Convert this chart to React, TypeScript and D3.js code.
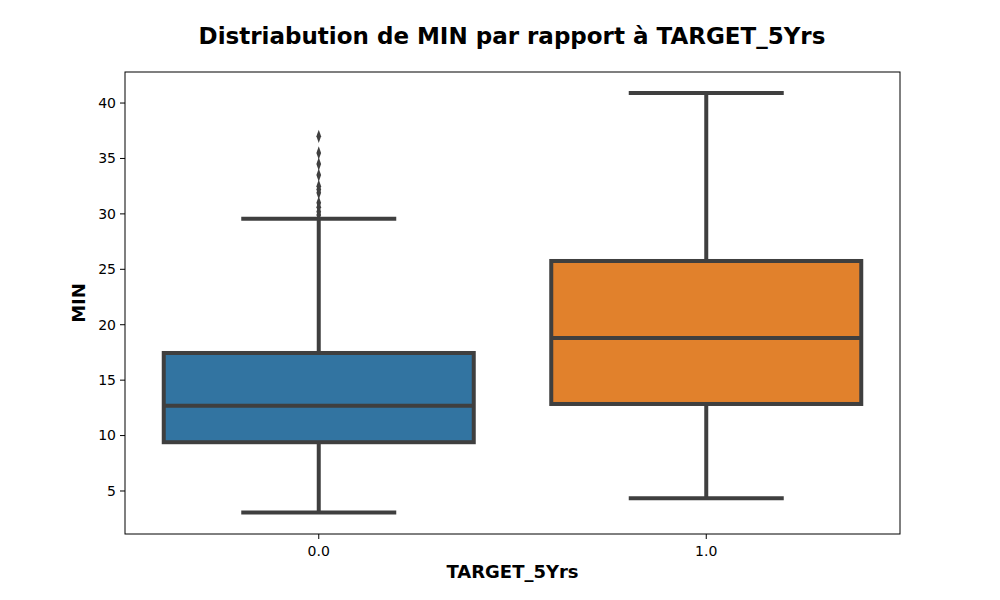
import React from 'react';
import * as d3 from 'd3';

const categories = ['0.0', '1.0'];
const colors = ['#3274a1', '#e1812c'];
// [whiskerLow, q1, median, q3, whiskerHigh]
const stats = [
  [3.05, 9.4, 12.7, 17.45, 29.55],
  [4.35, 12.85, 18.8, 25.75, 40.9],
];
const outliers0 = [37.0, 35.5, 34.5, 33.5, 32.5, 32.2, 31.9, 31.0, 30.6, 30.2, 29.9];
const yTicks = [5, 10, 15, 20, 25, 30, 35, 40];

export default function App() {
  const W = 1000, H = 600;
  const m = { left: 125, right: 100, top: 72, bottom: 66 };
  const iw = W - m.left - m.right;
  const ih = H - m.top - m.bottom;
  const x = d3.scaleBand().domain(categories).range([0, iw]).paddingInner(0.2).paddingOuter(0.1);
  const y = d3.scaleLinear().domain([1.12, 42.8]).range([ih, 0]);
  const bw = x.bandwidth();
  const stroke = '#3f3f3f';
  const font = 'DejaVu Sans, sans-serif';
  const diamond = d3.symbol().type(d3.symbolDiamond).size(30)()!;

  return (
    <svg width={W} height={H} style={{ position: 'absolute', left: 0, top: 0 }} fontFamily={font}>
      <rect width={W} height={H} fill="#fff" />
      <text x={512} y={44} textAnchor="middle" fontSize={23} fontWeight="bold">
        Distriabution de MIN par rapport à TARGET_5Yrs
      </text>
      <g transform={`translate(${m.left},${m.top})`}>
        {yTicks.map((t) => (
          <g key={t} transform={`translate(0,${y(t)})`}>
            <line x1={-5} x2={0} stroke="#000" />
            <text x={-9} dy="0.35em" textAnchor="end" fontSize={14}>{t}</text>
          </g>
        ))}
        {categories.map((c, i) => {
          const [lo, q1, med, q3, hi] = stats[i];
          const cx = x(c)! + bw / 2;
          const x0 = x(c)!;
          return (
            <g key={c}>
              <line x1={cx} x2={cx} y1={y(q3)} y2={y(hi)} stroke={stroke} strokeWidth={4} />
              <line x1={cx} x2={cx} y1={y(q1)} y2={y(lo)} stroke={stroke} strokeWidth={4} />
              <line x1={cx - bw / 4} x2={cx + bw / 4} y1={y(hi)} y2={y(hi)} stroke={stroke} strokeWidth={4} />
              <line x1={cx - bw / 4} x2={cx + bw / 4} y1={y(lo)} y2={y(lo)} stroke={stroke} strokeWidth={4} />
              <rect x={x0} width={bw} y={y(q3)} height={y(q1) - y(q3)} fill={colors[i]} stroke={stroke} strokeWidth={4} />
              <line x1={x0} x2={x0 + bw} y1={y(med)} y2={y(med)} stroke={stroke} strokeWidth={4} />
              {i === 0 && outliers0.map((v, k) => (
                <path key={k} d={diamond} transform={`translate(${cx},${y(v)}) scale(0.8,1.3)`} fill={stroke} />
              ))}
              <line x1={cx} x2={cx} y1={ih} y2={ih + 5} stroke="#000" />
              <text x={cx} y={ih + 22} textAnchor="middle" fontSize={14}>{c}</text>
            </g>
          );
        })}
        <rect width={iw} height={ih} fill="none" stroke="#000" strokeWidth={1} />
        <text x={iw / 2} y={ih + 44} textAnchor="middle" fontSize={18} fontWeight="bold">TARGET_5Yrs</text>
        <text transform={`translate(-40,${ih / 2}) rotate(-90)`} textAnchor="middle" fontSize={18} fontWeight="bold">MIN</text>
      </g>
    </svg>
  );
}
